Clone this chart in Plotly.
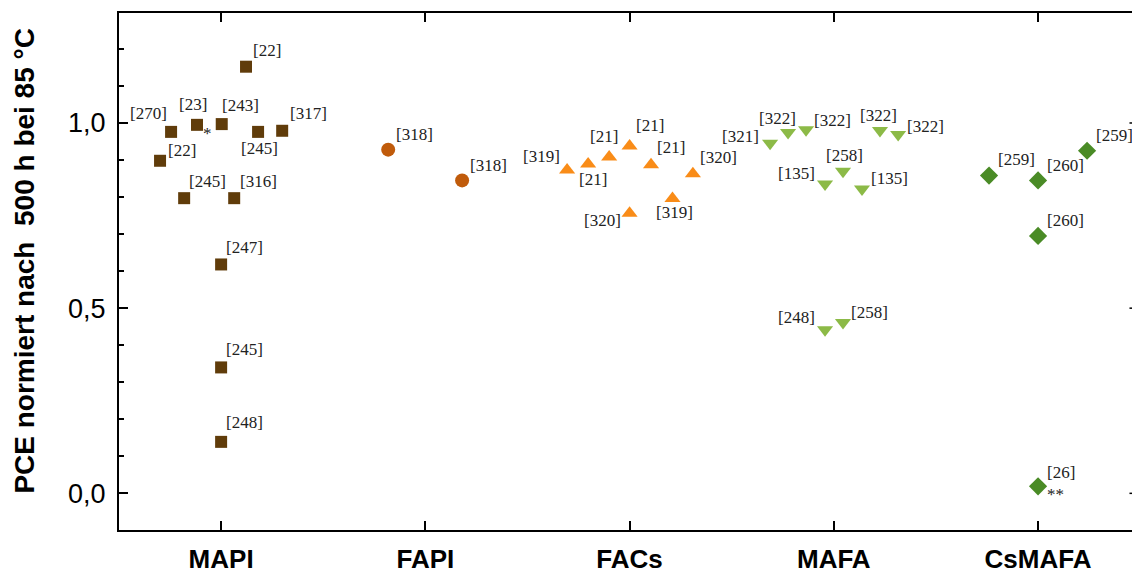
import plotly.graph_objects as go

# ---------------- data ----------------
categories = ["MAPI", "FAPI", "FACs", "MAFA", "CsMAFA"]
cat_pos = [1, 2, 3, 4, 5]

mapi_x = [1.122, 0.755, 0.882, 1.003, 1.181, 1.299, 0.701, 0.819, 1.064, 1.0, 1.0, 1.0]
mapi_y = [1.152, 0.976, 0.995, 0.997, 0.976, 0.979, 0.898, 0.797, 0.797, 0.618, 0.340, 0.139]
mapi_ref = ["[22]", "[270]", "[23]", "[243]", "[245]", "[317]", "[22]", "[245]",
            "[316]", "[247]", "[245]", "[248]"]

fapi_x = [1.818, 2.18]
fapi_y = [0.928, 0.845]
fapi_ref = ["[318]", "[318]"]

facs_x = [2.694, 2.797, 2.90, 3.0, 3.105, 3.31, 3.21, 3.0]
facs_y = [0.873, 0.889, 0.908, 0.938, 0.887, 0.863, 0.796, 0.756]
facs_ref = ["[319]", "[21]", "[21]", "[21]", "[21]", "[320]", "[319]", "[320]"]

mafa_x = [3.688, 3.776, 3.864, 4.226, 4.315, 3.957, 4.045, 4.138, 3.957, 4.045]
mafa_y = [0.945, 0.974, 0.982, 0.980, 0.969, 0.835, 0.870, 0.822, 0.442, 0.461]
mafa_ref = ["[321]", "[322]", "[322]", "[322]", "[322]", "[135]", "[258]",
            "[135]", "[248]", "[258]"]

csmafa_x = [4.76, 5.0, 5.24, 5.0, 5.0]
csmafa_y = [0.858, 0.845, 0.925, 0.695, 0.019]
csmafa_ref = ["[259]", "[260]", "[259]", "[260]", "[26]"]

# footnote marks attached to points
note_x = [0.882, 5.0]
note_y = [0.995, 0.019]
note_mark = ["*", "**"]

y_major = [0.0, 0.5, 1.0]
y_major_text = ["0,0", "0,5", "1,0"]

# ---------------- label placement (style) ----------------
# (xanchor, xshift, yshift) in pixels relative to the marker anchor
mapi_lab = [("left", 6, 16), ("right", -3, 18), ("center", -4, 20), ("left", -1, 19),
            ("center", 1, -17), ("left", 7, 17), ("left", 7, 10), ("left", 4, 17),
            ("left", 5, 17), ("left", 4, 17), ("left", 4, 18), ("left", 4, 19)]
fapi_lab = [("left", 7, 15), ("left", 7, 15)]
facs_lab = [("right", -6, 14), ("center", 5, -15), ("center", -5, 21), ("left", 5, 20),
            ("left", 5, 17), ("left", 6, 16), ("center", 2, -14), ("right", -8, -7)]
mafa_lab = [("right", -10, 7), ("center", -11, 14), ("left", 7, 9), ("center", -1, 15),
            ("left", 8, 8), ("right", -9, 11), ("center", 1, 16), ("left", 8, 10),
            ("right", -9, 12), ("left", 7, 10)]
csmafa_lab = [("left", 8, 16), ("left", 8, 15), ("left", 8, 15), ("left", 8, 15),
              ("left", 8, 14)]
note_lab = [("center", 10, -9), ("center", 17, -8)]

label_font = dict(family="Liberation Serif, DejaVu Serif, serif", size=17, color="#222222")

fig = go.Figure()


def add_group(xs, ys, refs, labs, symbol, color, size):
    fig.add_trace(go.Scatter(
        x=xs, y=ys, mode="markers",
        marker=dict(symbol=symbol, color=color, size=size, line=dict(width=0)),
        cliponaxis=False, showlegend=False, hovertext=refs, hoverinfo="x+y+text"))
    for xv, yv, t, (xa, dx, dy) in zip(xs, ys, refs, labs):
        fig.add_annotation(x=xv, y=yv, text=t, showarrow=False, xanchor=xa,
                           yanchor="middle", xshift=dx, yshift=dy, font=label_font,
                           borderpad=0)


add_group(mapi_x, mapi_y, mapi_ref, mapi_lab, "square", "#603c0a", 12)
add_group(fapi_x, fapi_y, fapi_ref, fapi_lab, "circle", "#c05b0b", 14)
add_group(facs_x, facs_y, facs_ref, facs_lab, "triangle-up", "#f98c18", 14)
add_group(mafa_x, mafa_y, mafa_ref, mafa_lab, "triangle-down", "#8cba47", 14)
add_group(csmafa_x, csmafa_y, csmafa_ref, csmafa_lab, "diamond", "#4a8b26", 14)

for xv, yv, t, (xa, dx, dy) in zip(note_x, note_y, note_mark, note_lab):
    fig.add_annotation(x=xv, y=yv, text=t, showarrow=False, xanchor=xa,
                       yanchor="middle", xshift=dx, yshift=dy, font=label_font,
                       borderpad=0)

fig.update_layout(
    width=1132, height=574,
    margin=dict(l=119, r=0, t=13, b=39),
    paper_bgcolor="white", plot_bgcolor="white",
    font=dict(family="Liberation Sans, Arial, sans-serif", color="black"),
    xaxis=dict(
        range=[0.5, 5.46], tickvals=cat_pos,
        ticktext=["<b>%s</b>" % c for c in categories],
        showgrid=False, zeroline=False,
        showline=True, linecolor="black", linewidth=2, mirror="ticks",
        ticks="inside", ticklen=9, tickwidth=1.5, tickcolor="black",
        tickfont=dict(family="Liberation Sans, Arial, sans-serif", size=26, color="black"),
        ticklabelstandoff=5,
    ),
    yaxis=dict(
        range=[-0.099, 1.297], tickvals=y_major, ticktext=y_major_text,
        showgrid=False, zeroline=False,
        showline=True, linecolor="black", linewidth=2, mirror=False,
        ticks="inside", ticklen=9, tickwidth=1.5, tickcolor="black",
        minor=dict(dtick=0.1, tick0=0, ticks="inside", ticklen=5, tickwidth=1.5,
                   tickcolor="black"),
        tickfont=dict(family="Liberation Sans, Arial, sans-serif", size=27, color="black"),
        ticklabelstandoff=6,
    ),
)

# y axis title as rotated annotation
fig.add_annotation(
    text="<b>PCE normiert nach  500 h bei 85 °C</b>", textangle=-90,
    xref="paper", yref="paper", x=(25 - 119) / 1013, y=(535 - 263) / 522,
    xanchor="center", yanchor="middle", showarrow=False,
    font=dict(family="Liberation Sans, Arial, sans-serif", size=28, color="black"))

# mirrored major ticks on the (clipped) right frame
for yv in y_major:
    fig.add_shape(type="line", xref="paper", yref="y", x0=0.9975, x1=1.0, y0=yv, y1=yv,
                  line=dict(color="black", width=1.5))

fig.write_html("out.html")
